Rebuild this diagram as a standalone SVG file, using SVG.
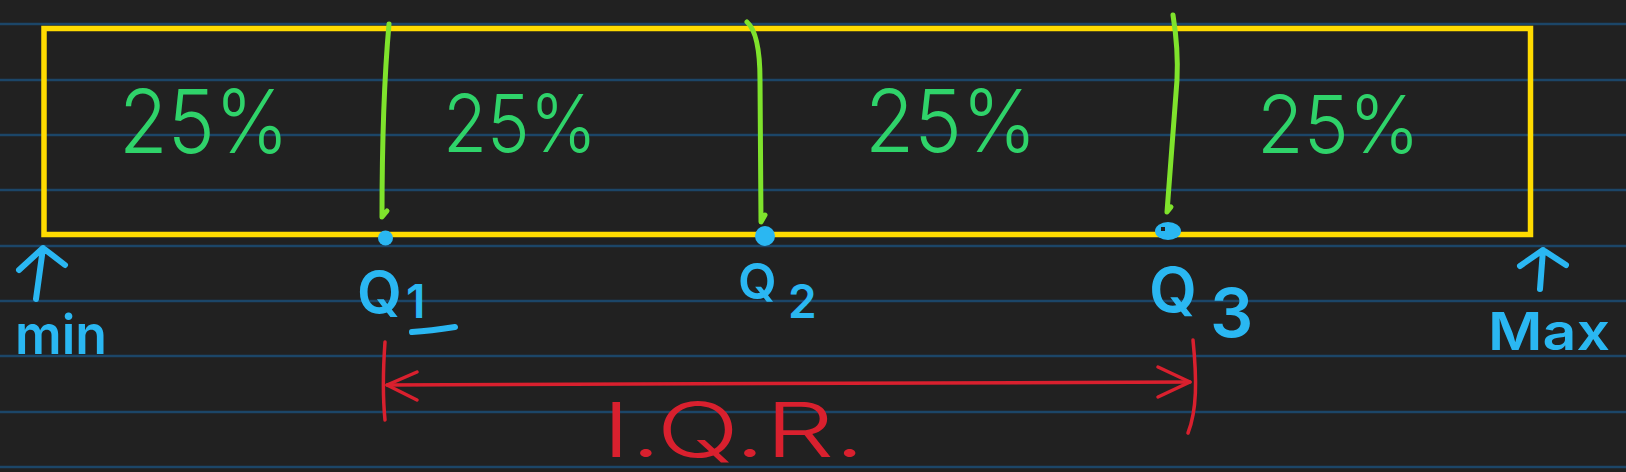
<svg xmlns="http://www.w3.org/2000/svg" width="1626" height="472" viewBox="0 0 1626 472">
<style>
.rule{stroke:#1c4668;stroke-width:2.5}
.box{fill:none;stroke:#ffdb00;stroke-width:5.5}
.div{fill:none;stroke:#7fe32c;stroke-width:5;stroke-linecap:round;stroke-linejoin:round}
.dot{fill:#2ab7f2}
.pct{font-family:Inter,"Open Sans",Roboto,sans-serif;font-weight:300;fill:#2fd36a}
.lbl{font-family:Inter,"Liberation Sans",sans-serif;font-weight:600;fill:#2ab7f2}
.bl{fill:none;stroke:#2ab7f2;stroke-width:6;stroke-linecap:round;stroke-linejoin:round}
.red{fill:none;stroke:#d9202e;stroke-width:3.5;stroke-linecap:round;stroke-linejoin:round}
.redt{font-family:Inter,"Liberation Sans",sans-serif;font-weight:300;fill:#d9202e}
</style>
<rect width="1626" height="472" fill="#212121"/>
<g id="rules">
<line class="rule" x1="0" y1="24" x2="1626" y2="24"/>
<line class="rule" x1="0" y1="80" x2="1626" y2="80"/>
<line class="rule" x1="0" y1="135" x2="1626" y2="135"/>
<line class="rule" x1="0" y1="190" x2="1626" y2="190"/>
<line class="rule" x1="0" y1="246" x2="1626" y2="246"/>
<line class="rule" x1="0" y1="301" x2="1626" y2="301"/>
<line class="rule" x1="0" y1="356" x2="1626" y2="356"/>
<line class="rule" x1="0" y1="412" x2="1626" y2="412"/>
<line class="rule" x1="0" y1="467" x2="1626" y2="467"/>
</g>
<g id="box">
<rect class="box" x="44" y="28.5" width="1486.5" height="206"/>
</g>
<g id="dividers">
<path class="div" d="M389,24 C384,80 382,150 382,217 L387,211"/>
<path class="div" d="M747,22 C756,30 760,50 760,80 L761,222 L765,215"/>
<path class="div" d="M1173,15 C1177,40 1178,60 1177,80 L1167,212 L1171,207"/>
</g>
<g id="segment1"><text class="pct" x="119" y="153" font-size="88" textLength="170" lengthAdjust="spacingAndGlyphs">25%</text></g>
<g id="segment2"><text class="pct" x="443" y="152" font-size="80" textLength="154" lengthAdjust="spacingAndGlyphs">25%</text></g>
<g id="segment3"><text class="pct" x="865" y="152" font-size="86" textLength="172" lengthAdjust="spacingAndGlyphs">25%</text></g>
<g id="segment4"><text class="pct" x="1257" y="153" font-size="80" textLength="163" lengthAdjust="spacingAndGlyphs">25%</text></g>
<g id="min">
<path class="bl" d="M36,299 L43,248 M19,270 L43,248 L65,265"/>
<text class="lbl" x="15" y="354" font-size="54" textLength="92" lengthAdjust="spacingAndGlyphs">min</text>
</g>
<g id="q1">
<circle class="dot" cx="385.5" cy="238" r="7.5"/>
<text class="lbl" font-size="58"><tspan x="357" y="313">Q</tspan><tspan x="406" y="318" font-size="46">1</tspan></text>
<path class="bl" d="M412,332 Q430,331 455,327"/>
</g>
<g id="q2">
<circle class="dot" cx="765" cy="236" r="10"/>
<text class="lbl" font-size="50"><tspan x="738" y="299">Q</tspan><tspan x="788" y="318" font-size="46">2</tspan></text>
</g>
<g id="q3">
<ellipse class="dot" cx="1168" cy="231" rx="13" ry="9"/>
<rect x="1161" y="227" width="4" height="4" fill="#212121"/>
<text class="lbl" font-size="62"><tspan x="1149" y="312">Q</tspan><tspan x="1210" y="337" font-size="68">3</tspan></text>
</g>
<g id="max">
<path class="bl" d="M1540,289 L1543,250 M1520,266 L1543,250 L1566,265"/>
<text class="lbl" x="1488" y="350" font-size="52" textLength="122" lengthAdjust="spacingAndGlyphs">Max</text>
</g>
<g id="connectors">
<path class="red" d="M385,342 C383,370 383,400 385,420"/>
<path class="red" d="M1193,340 C1197,380 1197,410 1188,433"/>
<path class="red" d="M387,385 L1190,382"/>
<path class="red" d="M417,372 L387,385 L417,400"/>
<path class="red" d="M1158,367 L1190,382 L1158,397"/>
</g>
<g id="iqr">
<text class="redt" x="602" y="457" font-size="76" textLength="263" lengthAdjust="spacingAndGlyphs">I.Q.R.</text>
</g>
</svg>
